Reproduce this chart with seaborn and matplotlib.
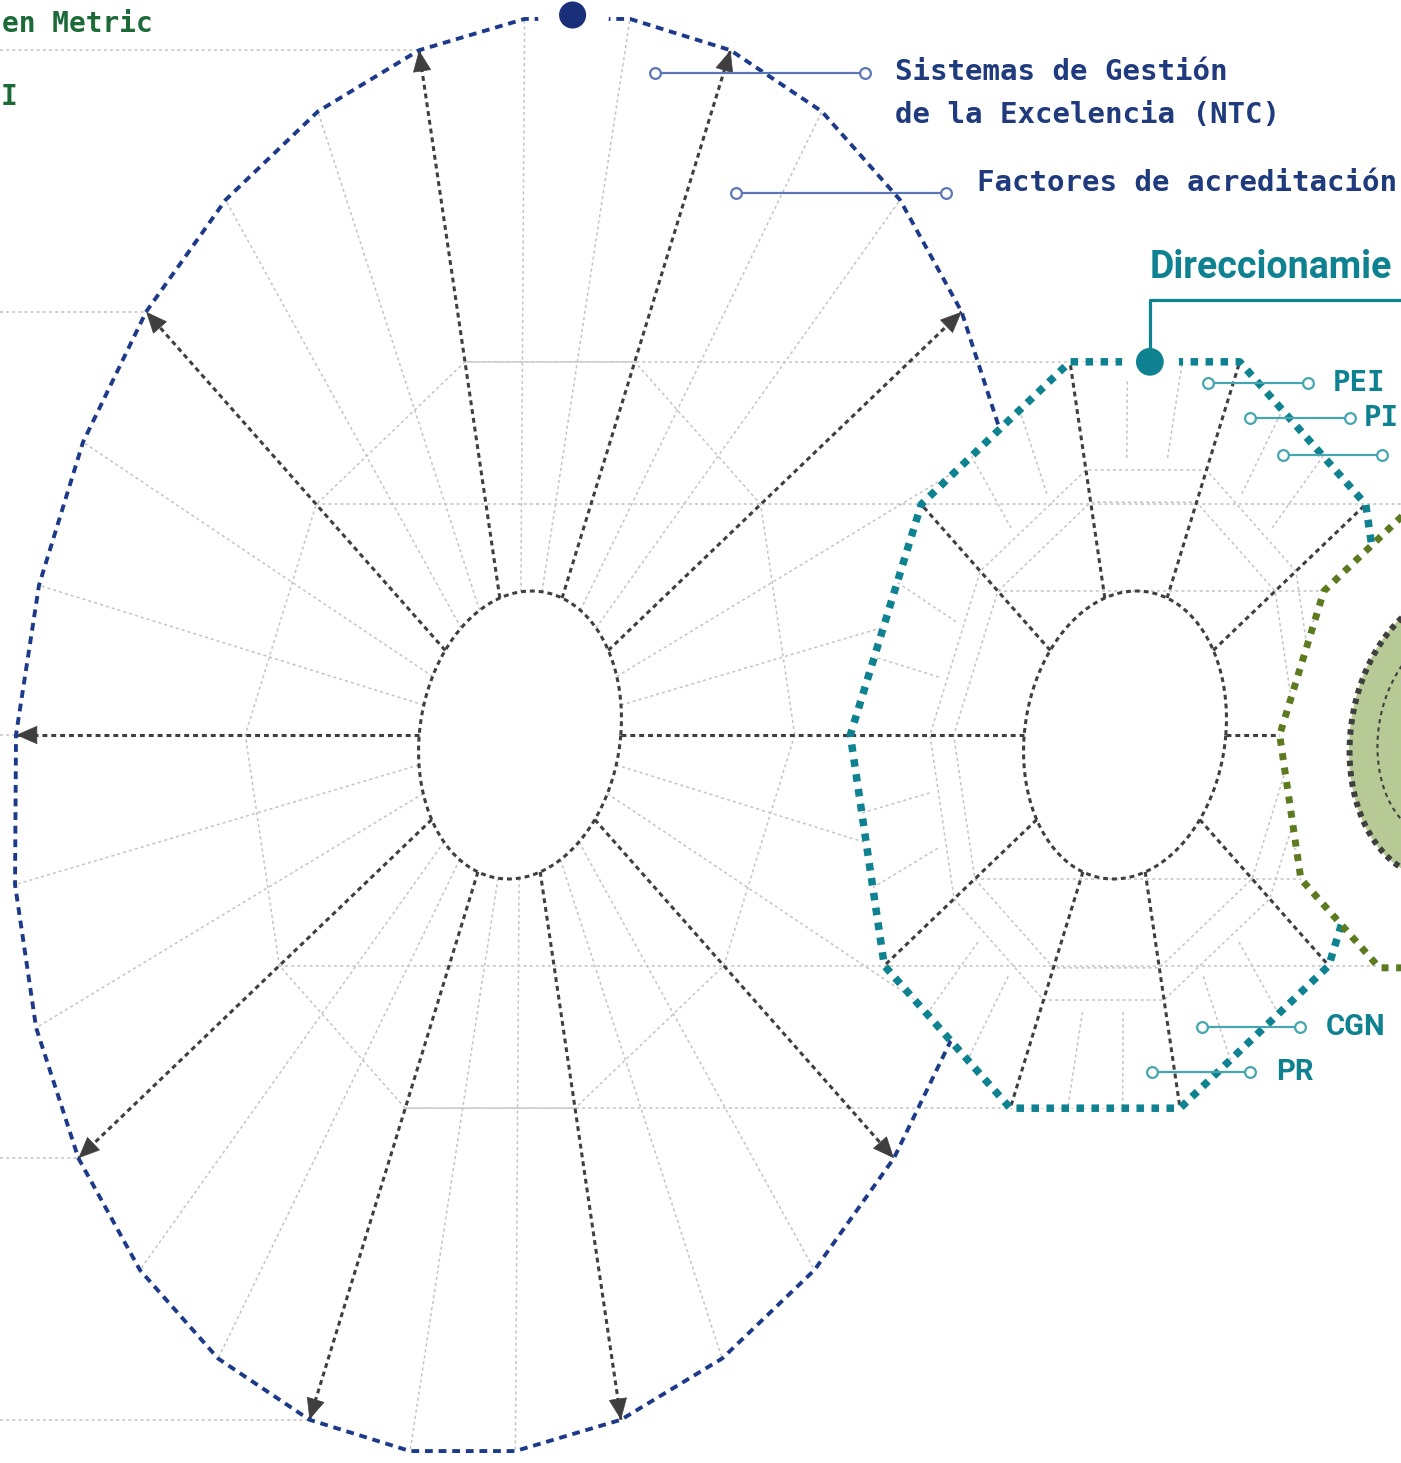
import numpy as np
import matplotlib.pyplot as plt
import seaborn as sns
from matplotlib.patches import Polygon

# --- geometry of the three nested radial figures (pixel units) ---
CENTERS_X = [520, 1125, 1451]
CENTER_Y = 735
RX, RY, SHEAR = 504, 720, 0.08
INNER_R = 0.2
OUTLINE_R = [1.0, 0.545, 0.34]          # navy, teal, green outlines
FIG1_RINGS = [0.545]
FIG2_RINGS = [0.387, 0.34]
MAIN_ANGLES = list(range(0, 360, 36))
SUB_ANGLES = [a for a in range(0, 360, 12) if a % 36]

# --- labels ---
NAVY_TEXT = ["Sistemas de Gestión", "de la Excelencia (NTC)", "Factores de acreditación"]
NAVY_TEXT_XY = [(895, 72), (895, 115), (977, 183)]
NAVY_LEADERS = [(655, 865, 73), (736, 946, 193)]
TEAL_MONO = ["PEI", "PI"]
TEAL_MONO_XY = [(1333, 383), (1364, 418)]
TEAL_SANS = ["CGN", "PR"]
TEAL_SANS_XY = [(1326, 1027), (1276, 1072)]
TEAL_LEADERS = [(1208, 1308, 383), (1250, 1350, 418), (1283, 1382, 455),
                (1202, 1300, 1027), (1152, 1250, 1072)]
TITLE = "Direccionamie"
GREEN_TEXT = ["en Metric", "I"]

NAVY = "#1d3a8a"
NAVY_TXT = "#1f3b7d"
NAVY_LIGHT = "#5b77b8"
TEAL = "#0e8291"
TEAL_LIGHT = "#45a6b0"
GREEN = "#5c7a20"
GREEN_FILL = "#b7c994"
GREEN_TXT = "#1c6a37"
DARK = "#3f3f3f"
GRAY = "#c4c4c4"

sns.set_theme(style="white")
plt.rcParams["font.family"] = ["DejaVu Sans Mono", "DejaVu Sans"]

GRAY_LS = (0, (2, 2))
DARK_LS = (0, (1.6, 1.3))


def pt(cx, r, deg):
    t = np.deg2rad(np.asarray(deg, dtype=float))
    x = cx + r * (RX * np.cos(t) + SHEAR * RY * np.sin(t))
    y = CENTER_Y - r * RY * np.sin(t)
    return x, y


def ring(cx, r, step=36):
    return pt(cx, r, np.arange(0, 361, step))


def ellipse(cx, r):
    return pt(cx, r, np.linspace(0, 360, 400))


def seg(ax, p0, p1, **kw):
    ax.plot([p0[0], p1[0]], [p0[1], p1[1]], **kw)


fig = plt.figure(figsize=(14.01, 14.63), dpi=100)
ax = fig.add_axes([0, 0, 1, 1])
ax.set_xlim(0, 1401)
ax.set_ylim(1463, 0)
ax.axis("off")

gray_kw = dict(color=GRAY, lw=1.1, ls=GRAY_LS, zorder=1)
dark_kw = dict(color=DARK, lw=2.2, ls=DARK_LS, zorder=2)

# ---------------- figure 1 (navy) ----------------
cx = CENTERS_X[0]
for a in SUB_ANGLES:
    seg(ax, pt(cx, INNER_R, a), pt(cx, 1.0, a), **gray_kw)
for r in FIG1_RINGS:
    ax.plot(*ring(cx, r), **gray_kw)
for a in [108, 144, 180, 216, 252]:
    x, y = pt(cx, 1.0, a)
    seg(ax, (0, y), (x, y), **gray_kw)
for a in [108, 144, 216, 252]:
    x, y = pt(cx, FIG1_RINGS[0], a)
    seg(ax, (x, y), (CENTERS_X[1], y), **gray_kw)

for a in MAIN_ANGLES:
    p0 = np.array(pt(cx, INNER_R, a))
    p1 = np.array(pt(cx, 1.0, a))
    seg(ax, p0, p1, **dark_kw)
    d = (p1 - p0) / np.linalg.norm(p1 - p0)
    ax.annotate("", xy=p1, xytext=p1 - d * 4,
                arrowprops=dict(arrowstyle="-|>,head_length=0.6,head_width=0.26",
                                color=DARK, lw=0.5, shrinkA=0, shrinkB=0,
                                mutation_scale=24), zorder=3)
ax.plot(*ellipse(cx, INNER_R), **dark_kw)
ax.plot(*ring(cx, OUTLINE_R[0], 12), color=NAVY, lw=2.8, ls=(0, (2.0, 1.5)), zorder=3)

top = pt(cx, 1.0, 90)
ax.plot(top[0] - 5, top[1], marker="o", ms=50, color="white", zorder=3.5)
sns.scatterplot(x=[top[0] - 5], y=[top[1]], s=380, color="#1a2f7a", edgecolor="none",
                ax=ax, zorder=3.6, legend=False)

# ---------------- figure 2 (teal) ----------------
cx = CENTERS_X[1]
tx, ty = ring(cx, OUTLINE_R[1])
shell2 = Polygon(np.column_stack([tx, ty]), closed=True, facecolor="white",
                 edgecolor="none", zorder=4)
ax.add_patch(shell2)
g2 = dict(gray_kw, zorder=5)
for r in FIG2_RINGS:
    ax.plot(*ring(cx, r), **g2)
for a in SUB_ANGLES:
    ln, = ax.plot(*zip(pt(cx, FIG2_RINGS[0], a), pt(cx, OUTLINE_R[1] * 1.05, a)), **g2)
    ln.set_clip_path(shell2)
for r in [OUTLINE_R[1], FIG2_RINGS[1]]:
    for a in [144, 216]:
        x, y = pt(cx, r, a)
        seg(ax, (x, y), (1401, y), **g2)
d2 = dict(dark_kw, zorder=6)
for a in MAIN_ANGLES:
    seg(ax, pt(cx, INNER_R, a), pt(cx, OUTLINE_R[1], a), **d2)
ax.plot(*ellipse(cx, INNER_R), **d2)
ax.plot(tx, ty, color=TEAL, lw=5.4, ls=(0, (1, 1)), solid_capstyle="butt",
        dash_capstyle="butt", zorder=7)

dot = ((tx[2] + tx[3]) / 2 - 5, (ty[2] + ty[3]) / 2)
ax.plot(*dot, marker="o", ms=40, color="white", zorder=7.5)
sns.scatterplot(x=[dot[0]], y=[dot[1]], s=400, color=TEAL, edgecolor="none",
                ax=ax, zorder=7.6, legend=False)
ax.plot([dot[0], dot[0], 1401], [dot[1], 300, 300], color=TEAL, lw=2.3, zorder=7.6)
ax.text(dot[0], 268, TITLE, color=TEAL, fontsize=27, fontweight="bold",
        family="Roboto", ha="left", va="center", zorder=8)

# ---------------- figure 3 (green) ----------------
cx = CENTERS_X[2]
gx, gy = ring(cx, OUTLINE_R[2])
ax.add_patch(Polygon(np.column_stack([gx, gy]), closed=True, facecolor="white",
                     edgecolor="none", zorder=9))
ax.plot(gx, gy, color=GREEN, lw=5.0, ls=(0, (1, 1.1)), dash_capstyle="butt", zorder=10)
ex, ey = ellipse(cx, INNER_R)
ax.fill(ex, ey, color=GREEN_FILL, zorder=10)
ax.plot(ex, ey, color=DARK, lw=4.3, ls=(0, (0.9, 0.85)), zorder=11)
ax.plot(*ellipse(cx, 0.145), color=DARK, lw=1.5, ls=(0, (2, 2)), zorder=11)

# ---------------- labels ----------------
for x0, x1, y in NAVY_LEADERS:
    ax.plot([x0, x1], [y, y], color=NAVY_LIGHT, lw=1.6, zorder=12)
    sns.scatterplot(x=[x0, x1], y=[y, y], s=60, facecolor="white", edgecolor=NAVY_LIGHT,
                    linewidth=1.6, ax=ax, zorder=13, legend=False)
for txt, (x, y) in zip(NAVY_TEXT, NAVY_TEXT_XY):
    ax.text(x, y, txt, color=NAVY_TXT, fontsize=21, fontweight="bold",
            ha="left", va="center", zorder=13)

for x0, x1, y in TEAL_LEADERS:
    ax.plot([x0, x1], [y, y], color=TEAL_LIGHT, lw=1.6, zorder=12)
    sns.scatterplot(x=[x0, x1], y=[y, y], s=60, facecolor="white", edgecolor=TEAL_LIGHT,
                    linewidth=1.6, ax=ax, zorder=13, legend=False)
for txt, (x, y) in zip(TEAL_MONO, TEAL_MONO_XY):
    ax.text(x, y, txt, color=TEAL, fontsize=21, fontweight="bold",
            ha="left", va="center", zorder=13)
for txt, (x, y) in zip(TEAL_SANS, TEAL_SANS_XY):
    ax.text(x, y, txt, color=TEAL, fontsize=21, fontweight="bold", family="Roboto",
            ha="left", va="center", zorder=13)

ax.text(2, 24, GREEN_TEXT[0], color=GREEN_TXT, fontsize=20, fontweight="bold",
        ha="left", va="center", zorder=13)
ax.text(1, 97, GREEN_TEXT[1], color=GREEN_TXT, fontsize=20, fontweight="bold",
        ha="left", va="center", zorder=13)

fig.savefig("out.png", dpi=100)
